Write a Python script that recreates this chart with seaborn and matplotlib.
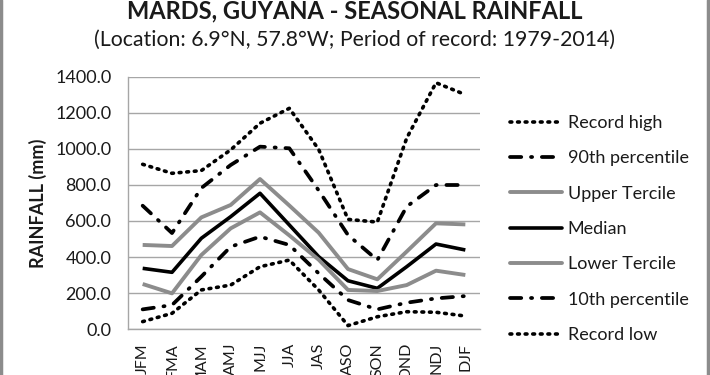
import matplotlib
matplotlib.use("Agg")
import matplotlib.pyplot as plt
import seaborn as sns
import pandas as pd
from matplotlib.lines import Line2D
from matplotlib.ticker import FormatStrFormatter

seasons = ["JFM", "FMA", "MAM", "AMJ", "MJJ", "JJA", "JAS", "ASO", "SON", "OND", "NDJ", "DJF"]
record_high = [915, 865, 880, 995, 1143, 1226, 998, 609, 594, 1060, 1368, 1302]
p90 = [685, 533, 783, 911, 1013, 1004, 770, 522, 383, 680, 800, 800]
upper_tercile = [467, 461, 620, 689, 833, 686, 535, 333, 276, 430, 587, 581]
median = [337, 315, 504, 624, 754, 578, 402, 268, 226, 346, 472, 439]
lower_tercile = [250, 198, 411, 559, 648, 520, 385, 217, 211, 244, 324, 300]
p10 = [109, 133, 291, 457, 513, 467, 309, 161, 109, 146, 170, 183]
record_low = [41, 87, 217, 244, 346, 383, 217, 19, 68, 96, 93, 72]

title = "MARDS, GUYANA - SEASONAL RAINFALL"
subtitle = "(Location: 6.9°N, 57.8°W; Period of record: 1979-2014)"
ylabel = "RAINFALL (mm)"
yticks = [0, 200, 400, 600, 800, 1000, 1200, 1400]

sns.set_theme(style="white")
plt.rcParams["font.family"] = ["Lato", "DejaVu Sans"]

fig = plt.figure(figsize=(7.1, 3.75), dpi=100)
ax = fig.add_axes([128 / 710, 46 / 375, 352 / 710, 252 / 375])

gray = "#8c8c8c"
dot = (0, (0.5, 1.6))
dashdot = (0, (3.0, 2.6, 0.3, 2.6))
series = [
    ("Record high", record_high, dict(color="black", lw=2.6, ls=dot, cap="round")),
    ("90th percentile", p90, dict(color="black", lw=2.7, ls=dashdot, cap="round")),
    ("Upper Tercile", upper_tercile, dict(color=gray, lw=2.8, ls="-", cap="butt")),
    ("Median", median, dict(color="black", lw=2.6, ls="-", cap="butt")),
    ("Lower Tercile", lower_tercile, dict(color=gray, lw=2.8, ls="-", cap="butt")),
    ("10th percentile", p10, dict(color="black", lw=2.7, ls=dashdot, cap="round")),
    ("Record low", record_low, dict(color="black", lw=2.6, ls=dot, cap="round")),
]

handles = []
for name, vals, st in series:
    df = pd.DataFrame({"season": seasons, "value": vals})
    sns.lineplot(data=df, x="season", y="value", ax=ax, sort=False,
                 color=st["color"], linewidth=st["lw"], linestyle=st["ls"],
                 dash_capstyle=st["cap"], solid_capstyle="butt")
    handles.append(Line2D([], [], color=st["color"], lw=st["lw"], ls=st["ls"],
                          dash_capstyle=st["cap"], label=name))

ax.set_xlim(-0.5, len(seasons) - 0.5)
ax.set_ylim(0, 1400)
ax.set_yticks(yticks)
ax.yaxis.set_major_formatter(FormatStrFormatter("%.1f"))
ax.grid(axis="y", color="#a6a6a6", lw=1.0)
ax.set_axisbelow(True)
for s in ["top", "right"]:
    ax.spines[s].set_visible(False)
for s in ["left", "bottom"]:
    ax.spines[s].set_color("#a6a6a6")
    ax.spines[s].set_linewidth(1.0)
ax.tick_params(axis="y", labelsize=13, colors="#1a1a1a", length=0, pad=12)
ax.tick_params(axis="x", labelsize=11.5, colors="#1a1a1a", length=0, pad=10, labelrotation=90)
ax.set_xlabel("")
ax.set_ylabel(ylabel, fontsize=13, fontweight="bold", labelpad=6, color="#1a1a1a")

fig.text(355, 375 - 18, title, transform=None, ha="center", va="baseline",
         fontsize=17, fontweight="bold", color="#1a1a1a")
fig.text(355 / 710, 1 - 40 / 375, subtitle, ha="center", va="center",
         fontsize=15.3, color="#1a1a1a")

leg = fig.legend(handles=handles, loc="upper left", bbox_to_anchor=(510 / 710, 1 - 115 / 375),
                 frameon=False, fontsize=13, labelspacing=1.07, handlelength=2.9,
                 handletextpad=0.3, labelcolor="#1a1a1a", borderaxespad=0, borderpad=0)

# figure frame lines left/right
fig.add_artist(Line2D([1.5 / 710, 1.5 / 710], [0, 1], transform=fig.transFigure, color="#8c8c8c", lw=2.5))
fig.add_artist(Line2D([1 - 2.5 / 710, 1 - 2.5 / 710], [0, 1], transform=fig.transFigure, color="#8c8c8c", lw=2.5))

fig.savefig("out.png", dpi=100, facecolor="white")
